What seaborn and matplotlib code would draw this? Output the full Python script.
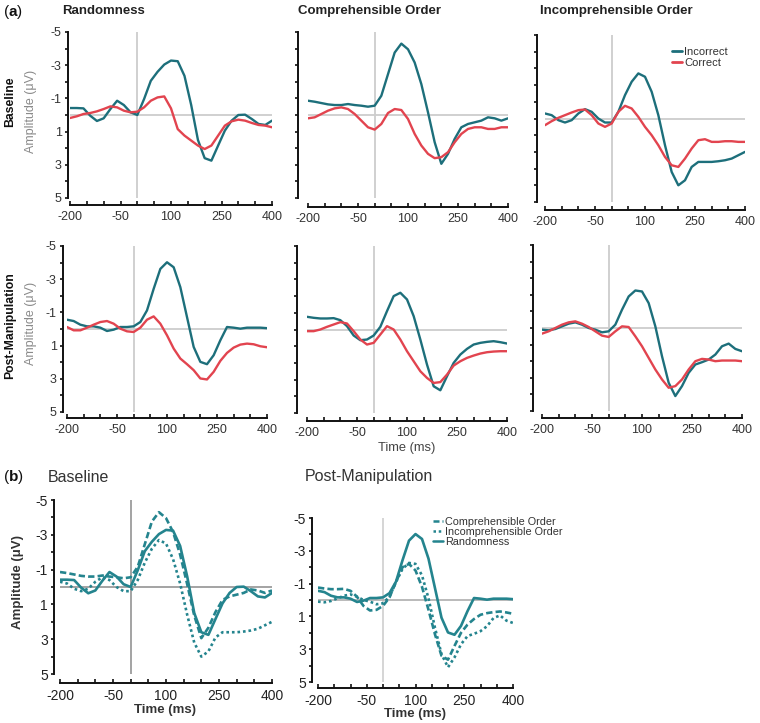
import matplotlib
matplotlib.use("Agg")
import matplotlib.pyplot as plt
from matplotlib.ticker import FixedLocator
from matplotlib.lines import Line2D
import pandas as pd
import seaborn as sns

# ---------------- data ----------------
time_ms = [-200, -180, -160, -140, -120, -100, -80, -60, -40, -20, 0, 20, 40, 60, 80,
           100, 120, 140, 160, 180, 200, 220, 240, 260, 280, 300, 320, 340, 360, 380, 400]

conditions = ["Randomness", "Comprehensible Order", "Incomprehensible Order"]
responses = ["Incorrect", "Correct"]
sessions = ["Baseline", "Post-Manipulation"]

# Baseline
rand_base_incorrect = [-0.42, -0.42, -0.4, 0.04, 0.36, 0.2, -0.36, -0.86, -0.6, -0.16, 0.0, -0.96, -2.06, -2.6,
                       -3.04, -3.28, -3.24, -2.36, -0.6, 1.5, 2.6, 2.75, 1.84, 0.94, 0.34, 0.0, -0.02, 0.24, 0.54, 0.6, 0.34]
rand_base_correct = [0.18, 0.08, -0.06, -0.12, -0.22, -0.36, -0.52, -0.46, -0.26, -0.16, -0.2, -0.46, -0.86, -1.06,
                     -1.12, -0.4, 0.85, 1.24, 1.54, 1.84, 2.05, 1.84, 1.24, 0.64, 0.38, 0.28, 0.34, 0.48, 0.6, 0.64, 0.74]
comp_base_incorrect = [-0.86, -0.8, -0.72, -0.64, -0.6, -0.6, -0.66, -0.6, -0.56, -0.5, -0.56, -1.16, -2.46, -3.76,
                       -4.3, -3.96, -3.16, -1.86, -0.16, 1.64, 2.94, 2.34, 1.44, 0.74, 0.54, 0.44, 0.34, 0.14, 0.2, 0.34, 0.2]
comp_base_correct = [0.2, 0.14, -0.06, -0.26, -0.4, -0.46, -0.36, -0.06, 0.34, 0.74, 0.88, 0.54, -0.12, -0.36,
                     -0.3, 0.24, 1.14, 1.84, 2.34, 2.6, 2.54, 2.24, 1.64, 1.14, 0.84, 0.74, 0.74, 0.84, 0.84, 0.74, 0.74]
incomp_base_incorrect = [-0.3, -0.2, 0.1, 0.24, 0.1, -0.3, -0.56, -0.4, 0.0, 0.24, 0.24, -0.4, -1.4, -2.2,
                         -2.7, -2.5, -1.6, -0.2, 1.6, 3.2, 4.0, 3.7, 2.9, 2.6, 2.6, 2.6, 2.56, 2.5, 2.4, 2.2, 2.0]
incomp_base_correct = [0.4, 0.16, -0.04, -0.2, -0.36, -0.5, -0.54, -0.2, 0.3, 0.5, 0.3, -0.4, -0.76, -0.6,
                       -0.1, 0.5, 1.0, 1.6, 2.3, 2.8, 2.9, 2.4, 1.8, 1.3, 1.24, 1.4, 1.4, 1.36, 1.36, 1.4, 1.4]

# Post-Manipulation
rand_post_incorrect = [-0.56, -0.48, -0.26, -0.16, -0.16, -0.08, 0.12, 0.04, -0.12, -0.12, -0.16, -0.42, -1.12, -2.42,
                       -3.62, -4.02, -3.72, -2.52, -0.72, 1.08, 1.98, 2.12, 1.58, 0.68, -0.12, -0.08, -0.02, -0.08, -0.08, -0.08, -0.05]
rand_post_correct = [-0.12, 0.08, 0.08, -0.08, -0.26, -0.42, -0.48, -0.32, -0.02, 0.14, 0.18, -0.08, -0.56, -0.76,
                     -0.32, 0.38, 1.18, 1.78, 2.12, 2.48, 2.98, 3.04, 2.58, 1.92, 1.44, 1.12, 0.94, 0.88, 0.92, 1.04, 1.1]
comp_post_incorrect = [-0.76, -0.7, -0.66, -0.66, -0.68, -0.56, -0.2, 0.36, 0.64, 0.6, 0.36, -0.16, -1.1, -2.0,
                       -2.2, -1.8, -0.8, 0.6, 2.1, 3.4, 3.64, 2.8, 2.0, 1.5, 1.16, 0.9, 0.8, 0.74, 0.7, 0.76, 0.84]
comp_post_correct = [0.1, 0.1, 0.0, -0.16, -0.3, -0.44, -0.36, 0.1, 0.6, 0.9, 0.8, 0.3, -0.2, 0.0,
                     0.6, 1.3, 1.9, 2.5, 2.9, 3.2, 3.15, 2.7, 2.16, 1.9, 1.7, 1.56, 1.44, 1.36, 1.32, 1.3, 1.3]
incomp_post_incorrect = [0.1, 0.14, 0.06, -0.1, -0.26, -0.34, -0.2, 0.0, 0.1, 0.26, 0.2, -0.2, -1.1, -1.9,
                         -2.26, -2.2, -1.5, -0.1, 1.7, 3.3, 4.1, 3.5, 2.7, 2.2, 2.06, 1.9, 1.6, 1.1, 0.94, 1.26, 1.4]
incomp_post_correct = [0.34, 0.2, 0.0, -0.2, -0.34, -0.4, -0.26, -0.06, 0.2, 0.46, 0.54, 0.2, -0.1, -0.06,
                       0.5, 1.1, 1.8, 2.5, 3.1, 3.6, 3.5, 3.1, 2.5, 2.0, 1.86, 1.9, 2.0, 1.96, 1.96, 1.96, 2.0]

x_tick_values = [-200, -50, 100, 250, 400]
x_minor_values = [-150, -100, 0, 50, 150, 200, 300, 350]
y_tick_values = [-5, -3, -1, 1, 3, 5]
y_minor_values = [-4, -2, 0, 2, 4]

panel_a = {
    ("Baseline", "Randomness"): (rand_base_incorrect, rand_base_correct),
    ("Baseline", "Comprehensible Order"): (comp_base_incorrect, comp_base_correct),
    ("Baseline", "Incomprehensible Order"): (incomp_base_incorrect, incomp_base_correct),
    ("Post-Manipulation", "Randomness"): (rand_post_incorrect, rand_post_correct),
    ("Post-Manipulation", "Comprehensible Order"): (comp_post_incorrect, comp_post_correct),
    ("Post-Manipulation", "Incomprehensible Order"): (incomp_post_incorrect, incomp_post_correct),
}
panel_b = {
    "Baseline": {"Comprehensible Order": comp_base_incorrect,
                 "Incomprehensible Order": incomp_base_incorrect,
                 "Randomness": rand_base_incorrect},
    "Post-Manipulation": {"Comprehensible Order": comp_post_incorrect,
                          "Incomprehensible Order": incomp_post_incorrect,
                          "Randomness": rand_post_incorrect},
}

# ---------------- style / layout ----------------
sns.set_theme(style="ticks")
plt.rcParams["font.family"] = ["Liberation Sans", "DejaVu Sans"]
plt.rcParams["axes.unicode_minus"] = False
plt.rcParams["mathtext.fontset"] = "custom"
plt.rcParams["mathtext.rm"] = "Liberation Sans"
plt.rcParams["mathtext.bf"] = "Liberation Sans:bold"

W, H = 760, 723
TEAL = "#1d6f7b"
RED = "#e2444f"
TEAL_B = "#24848e"

fig = plt.figure(figsize=(W / 100, H / 100), dpi=100)


def px_rect(left, right, top, bottom):
    return [left / W, 1 - bottom / H, (right - left) / W, (bottom - top) / H]


def style_axis(ax, off_left, off_bottom, show_ylabels, fs, color):
    ax.set_xlim(-200, 400)
    ax.set_ylim(5, -5)
    ax.set_facecolor("none")
    for s in ("top", "right"):
        ax.spines[s].set_visible(False)
    ax.spines["left"].set_position(("outward", off_left * 0.72))
    ax.spines["bottom"].set_position(("outward", off_bottom * 0.72))
    for s in ("left", "bottom"):
        ax.spines[s].set_linewidth(1.4)
        ax.spines[s].set_color("#111111")
    ax.xaxis.set_major_locator(FixedLocator(x_tick_values))
    ax.xaxis.set_minor_locator(FixedLocator(x_minor_values))
    ax.set_xticklabels([str(v) for v in x_tick_values])
    ax.yaxis.set_major_locator(FixedLocator(y_tick_values))
    ax.yaxis.set_minor_locator(FixedLocator(y_minor_values))
    ax.set_yticklabels([str(v) for v in y_tick_values])
    ax.tick_params(axis="x", which="both", direction="in", length=3, width=1.2,
                   pad=4, labelsize=fs, labelcolor=color, color="#111111")
    ax.tick_params(axis="y", which="both", direction="out", length=2.5, width=1.2,
                   pad=2, labelsize=fs, labelcolor=color, color="#111111",
                   labelleft=show_ylabels)
    ax.set_xlabel("")
    ax.set_ylabel("")
    ax.grid(False)


# panel (a) layout: (left, right, top, bottom, spine offset left, spine offset bottom)
layout_a = {
    ("Baseline", "Randomness"): (70, 272, 32, 198, 2, 7),
    ("Baseline", "Comprehensible Order"): (308, 508, 32, 198, 10, 9),
    ("Baseline", "Incomprehensible Order"): (545, 745, 35, 202, 8, 8),
    ("Post-Manipulation", "Randomness"): (67, 267, 246, 412, 4, 6),
    ("Post-Manipulation", "Comprehensible Order"): (307, 507, 246, 413, 10, 8),
    ("Post-Manipulation", "Incomprehensible Order"): (542, 742, 245, 411, 9, 7),
}

for (sess, cond), (inc, cor) in panel_a.items():
    l, r, t, b, ol, ob = layout_a[(sess, cond)]
    ax = fig.add_axes(px_rect(l, r, t, b))
    ax.axvline(0, color="#cdcdcd", lw=1.3, zorder=0)
    ax.axhline(0, color="#cdcdcd", lw=1.3, zorder=0)
    df = pd.DataFrame({
        "Time": time_ms + time_ms,
        "Amplitude": inc + cor,
        "Response": [responses[0]] * len(time_ms) + [responses[1]] * len(time_ms),
    })
    sns.lineplot(data=df, x="Time", y="Amplitude", hue="Response", hue_order=responses,
                 palette={"Incorrect": TEAL, "Correct": RED}, estimator=None,
                 linewidth=1.7, legend=False, ax=ax)
    style_axis(ax, ol, ob, cond == "Randomness", 9, "#333333")
    if sess == "Baseline" and cond == "Incomprehensible Order":
        handles = [Line2D([], [], color=TEAL, lw=2), Line2D([], [], color=RED, lw=2)]
        fig.legend(handles, responses, loc="upper left",
                   bbox_to_anchor=(672 / W, 1 - 47 / H), frameon=False,
                   fontsize=8, handlelength=0.9, handletextpad=0.2,
                   labelspacing=0.05, borderpad=0, borderaxespad=0,
                   labelcolor="#333333")

# panel (b)
layout_b = {
    "Baseline": (60, 272, 500, 674, 6, 9),
    "Post-Manipulation": (318, 513, 518, 682, 6, 6),
}
dash_map = {"Comprehensible Order": (2.4, 1.2),
            "Incomprehensible Order": (1.0, 1.1),
            "Randomness": ""}
order_b = ["Comprehensible Order", "Incomprehensible Order", "Randomness"]
for sess, series in panel_b.items():
    l, r, t, b, ol, ob = layout_b[sess]
    ax = fig.add_axes(px_rect(l, r, t, b))
    vcol = "#9c9c9c" if sess == "Baseline" else "#d2d2d2"
    hcol = "#9c9c9c" if sess == "Baseline" else "#b4b4b4"
    ax.axvline(0, color=vcol, lw=1.3, zorder=0)
    ax.axhline(0, color=hcol, lw=1.3, zorder=0)
    df = pd.DataFrame({
        "Time": time_ms * 3,
        "Amplitude": sum((series[c] for c in order_b), []),
        "Condition": sum(([c] * len(time_ms) for c in order_b), []),
    })
    sns.lineplot(data=df, x="Time", y="Amplitude", style="Condition", style_order=order_b,
                 dashes=dash_map, color=TEAL_B, estimator=None, linewidth=1.9,
                 legend=False, ax=ax)
    style_axis(ax, ol, ob, True, 10, "#222222")
    if sess == "Post-Manipulation":
        handles = [Line2D([], [], color=TEAL_B, lw=1.8, dashes=dash_map[c]) if dash_map[c]
                   else Line2D([], [], color=TEAL_B, lw=1.8) for c in order_b]
        fig.legend(handles, order_b, loc="upper left",
                   bbox_to_anchor=(433 / W, 1 - 517 / H), frameon=False,
                   fontsize=7.8, handlelength=0.9, handletextpad=0.2,
                   labelspacing=0.0, borderpad=0, borderaxespad=0,
                   labelcolor="#333333")


def ftext(x, y, s, **kw):
    fig.text(x / W, 1 - y / H, s, **kw)


# panel (a) texts
ftext(3, 12, r"($\mathbf{a}$)", fontsize=11, va="center", ha="left", color="#111111")
ftext(62, 11, "Randomness", fontsize=9.5, fontweight="bold", va="center", color="#222222")
ftext(298, 11, "Comprehensible Order", fontsize=9.5, fontweight="bold", va="center", color="#222222")
ftext(540, 11, "Incomprehensible Order", fontsize=9.5, fontweight="bold", va="center", color="#222222")
ftext(10, 102, "Baseline", fontsize=8.8, fontweight="bold", rotation=90, ha="center", va="center", color="#111111")
ftext(10, 326, "Post-Manipulation", fontsize=8.8, fontweight="bold", rotation=90, ha="center", va="center", color="#111111")
ftext(31, 111, "Amplitude (μV)", fontsize=9, rotation=90, ha="center", va="center", color="#8a8a8a")
ftext(31, 323, "Amplitude (μV)", fontsize=9, rotation=90, ha="center", va="center", color="#8a8a8a")
ftext(407, 448, "Time (ms)", fontsize=9.3, ha="center", va="center", color="#444444")

# panel (b) texts
ftext(3, 477, r"($\mathbf{b}$)", fontsize=11, va="center", ha="left", color="#111111")
ftext(48, 477, "Baseline", fontsize=11.5, va="center", ha="left", color="#333333")
ftext(305, 476, "Post-Manipulation", fontsize=11.5, va="center", ha="left", color="#333333")
ftext(18, 582, "Amplitude (μV)", fontsize=9.5, fontweight="bold", rotation=90, ha="center", va="center", color="#333333")
ftext(165, 710, "Time (ms)", fontsize=9.5, fontweight="bold", ha="center", va="center", color="#333333")
ftext(415, 714, "Time (ms)", fontsize=9.5, fontweight="bold", ha="center", va="center", color="#333333")

fig.savefig("out.png", dpi=100)
